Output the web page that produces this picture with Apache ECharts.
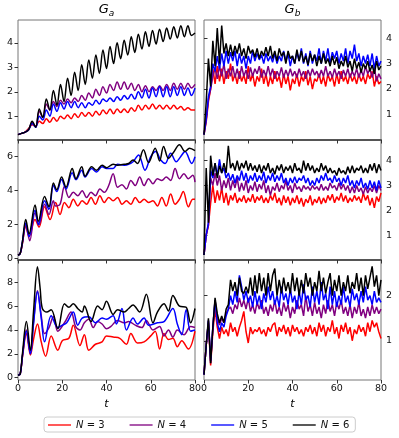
<!DOCTYPE html>
<html><head><meta charset="utf-8">
<script src="https://cdn.jsdelivr.net/npm/echarts@6/dist/echarts.min.js"></script>
<style>html,body{margin:0;padding:0;background:#fff}#c{width:399px;height:438px}</style>
</head><body><div id="c"></div>
<script>
const seriesNames = ['N = 3','N = 4','N = 5','N = 6'];
const colors = ['#ff0000','#800080','#0000ff','#000000'];
const legendColors = ['rgba(255,0,0,0.65)','rgba(128,0,128,0.65)','rgba(0,0,255,0.65)','rgba(0,0,0,0.65)'];
const xTicks = [0,20,40,60,80];
const yTicks = [[1,2,3,4],[1,2,3,4],[0,2,4,6],[1,2,3,4],[0,2,4,6,8],[1,2]];
const yRange = [[0.03,4.93],[-0.01,4.72],[-0.08,6.98],[0,4.83],[-0.2,9.87],[0.13,2.79]];
const colTitles = ['a','b'];

// ---- Ga, top row (sampled at extrema) ----
const tA = [0,1.6,3.2,4.8,6.4,8,9.6,11.2,12.8,14.4,16,17.6,19.2,20.8,22.4,24,25.6,27.2,28.8,30.4,32,33.6,35.2,36.8,38.4,40,41.6,43.2,44.8,46.4,48,49.6,51.2,52.8,54.4,56,57.6,59.2,60.8,62.4,64,65.6,67.2,68.8,70.4,72,73.6,75.2,76.8,78.4,80];
const ga1_N3 = [0.25,0.3,0.35,0.5,0.65,0.6,0.8,0.7,0.9,0.75, 0.95,0.8,1.0,0.9,1.05,0.9,1.1,0.95,1.15,1.0, 1.15,1.0,1.2,1.05,1.25,1.1,1.3,1.1,1.3,1.15, 1.3,1.15,1.35,1.2,1.45,1.25,1.45,1.3,1.5,1.3, 1.45,1.3,1.45,1.3,1.45,1.3,1.4,1.25,1.35,1.25, 1.25];
const ga1_N4 = [0.25,0.3,0.35,0.45,0.75,0.55,1.2,0.95,1.5,1.25, 1.6,1.4,1.65,1.5,1.7,1.55,1.75,1.6,1.85,1.65, 1.95,1.75,2.1,1.85,2.2,1.95,2.3,2.05,2.4,2.1, 2.4,2.1,2.35,2.05,2.3,2.0,2.25,2.0,2.2,2.05, 2.25,2.05,2.3,2.05,2.35,2.1,2.35,2.1,2.35,2.15, 2.3];
const ga1_N5 = [0.25,0.3,0.35,0.45,0.7,0.55,1.0,0.85,1.25,1.0, 1.5,1.2,1.55,1.3,1.6,1.35,1.6,1.35,1.55,1.35, 1.55,1.45,1.65,1.5,1.7,1.6,1.75,1.6,1.8,1.65, 1.85,1.7,1.9,1.7,2.0,1.75,2.1,1.75,2.15,1.8, 2.2,1.8,2.2,1.8,2.2,1.85,2.2,1.85,2.15,1.85, 2.15];
const ga1_N6 = [0.25,0.3,0.35,0.45,0.8,0.55,1.3,0.95,1.7,1.25, 2.05,1.45,2.3,1.6,2.55,1.85,2.8,2.05,3.1,2.3, 3.3,2.55,3.5,2.75,3.7,2.95,3.85,3.15,4.0,3.35, 4.1,3.5,4.25,3.6,4.35,3.75,4.45,3.85,4.5,3.95, 4.55,4.05,4.6,4.15,4.65,4.2,4.7,4.25,4.7,4.3, 4.4];

// ---- Gb panels: sampled every time unit ----
const tB = [0,1,2,3,4,5,6,7,8,9,10,11,12,13,14,15,16,17,18,19,20,21,22,23,24,25,26,27,28,29,30,31,32,33,34,35,36,37,38,39,40,41,42,43,44,45,46,47,48,49,50,51,52,53,54,55,56,57,58,59,60,61,62,63,64,65,66,67,68,69,70,71,72,73,74,75,76,77,78,79,80];
const gb1_N3 = [0.2,0.7,1.5,2.0,2.8,2.2,2.9,2.3,2.8,2.2, 2.7,2.4,3.0,2.3,2.6,2.2,2.7,2.3,2.55,2.2, 2.9,2.3,2.6,2.1,2.5,2.3,2.8,2.2,2.6,2.1, 2.5,2.2,2.7,2.3,2.5,2.05,2.6,2.2,2.5,1.95, 2.4,2.2,2.6,2.1,2.5,2.3,2.7,2.15,2.5,2.0, 2.4,2.3,2.6,2.2,2.5,2.1,2.6,2.3,2.5,2.1, 2.6,2.2,2.7,2.3,2.5,2.2,2.6,2.3,2.5,2.2, 2.6,2.3,2.5,2.2,2.6,2.4,2.7,2.1,2.5,2.2, 2.3];
const gb1_N4 = [0.2,0.8,1.6,2.0,2.5,2.8,2.4,2.9,2.5,3.0, 2.4,2.8,2.5,2.9,2.45,2.8,2.4,2.9,2.5,2.75, 2.4,2.85,2.5,2.8,2.6,2.9,2.45,2.75,2.5,2.9, 2.5,2.8,2.4,2.7,2.5,2.85,2.45,2.75,2.5,2.8, 2.5,2.7,2.45,2.8,2.5,2.7,2.4,2.75,2.5,2.8, 2.55,2.7,2.45,2.75,2.5,2.9,2.5,2.7,2.45,2.8, 2.5,2.7,2.4,2.75,2.5,2.8,2.45,2.7,2.5,2.8, 2.45,2.75,2.5,2.9,2.6,2.8,2.45,2.85,2.3,2.6, 2.4];
const gb1_N5 = [0.2,0.8,1.7,2.1,3.0,2.7,3.3,2.8,3.4,2.9, 3.5,3.0,3.45,3.1,3.5,2.9,3.4,3.0,3.3,2.8, 3.3,3.0,3.5,3.1,3.4,3.15,3.35,3.0,3.4,3.1, 3.3,3.05,3.4,3.0,3.3,3.1,3.5,3.1,3.4,2.9, 3.3,3.0,3.45,3.1,3.6,3.0,3.4,2.9,3.5,3.0, 3.35,3.1,3.6,3.0,3.5,3.1,3.6,3.0,3.45,3.2, 3.5,3.0,3.4,3.1,3.6,3.0,3.5,3.2,3.75,3.1, 3.4,2.9,3.3,3.0,3.35,2.9,3.4,2.8,3.3,2.9, 3.1];
const gb1_N6 = [0.2,1.5,3.2,2.1,3.9,2.9,4.4,3.0,4.5,3.4, 3.8,3.3,3.75,3.3,3.7,3.4,3.8,3.3,3.6,3.2, 3.7,3.4,3.55,3.25,3.6,3.2,3.5,3.3,3.65,3.3, 3.7,3.2,3.5,3.1,3.6,3.3,3.45,3.0,3.5,3.2, 3.3,3.0,3.55,3.1,3.5,3.05,3.3,2.95,3.4,3.1, 3.35,2.9,3.3,3.0,3.4,3.0,3.2,2.9,3.3,2.95, 3.25,2.8,3.1,2.9,3.3,2.85,3.1,2.7,3.2,2.8, 3.05,2.65,3.0,2.8,3.1,2.7,2.95,2.6,3.1,2.75, 2.9];

const gb2_N3 = [0.2,1.0,1.4,2.3,3.0,2.3,2.8,2.4,2.9,2.3, 2.7,2.2,2.6,2.4,2.7,2.3,2.5,2.35,2.6,2.3, 2.5,2.35,2.65,2.3,2.55,2.4,2.6,2.3,2.5,2.3, 2.6,2.4,2.7,2.3,2.5,2.2,2.6,2.3,2.55,2.2, 2.5,2.3,2.6,2.25,2.5,2.15,2.45,2.3,2.6,2.2, 2.45,2.3,2.55,2.25,2.5,2.3,2.6,2.4,2.65,2.3, 2.55,2.4,2.7,2.35,2.6,2.3,2.5,2.35,2.6,2.4, 2.55,2.3,2.7,2.4,2.6,2.2,2.5,2.1,2.55,2.35, 2.7];
const gb2_N4 = [0.2,1.0,1.4,3.3,3.0,3.5,3.0,3.4,2.8,3.2, 2.9,3.3,2.8,3.2,2.9,3.3,2.75,3.1,2.8,3.2, 2.7,3.0,2.8,3.15,2.75,3.05,2.85,3.2,2.7,3.0, 2.6,2.95,2.8,3.1,2.75,3.0,2.85,3.2,2.8,3.0, 2.7,3.1,2.85,2.95,2.75,3.0,2.85,2.95,2.8,3.0, 2.85,2.95,2.8,3.05,2.8,2.95,2.8,3.1,2.9,3.0, 2.8,3.1,2.85,3.05,2.8,3.0,2.7,2.95,2.7,3.0, 2.75,2.9,2.65,2.95,2.7,2.9,2.75,3.0,2.7,3.0, 2.8];
const gb2_N5 = [0.2,1.0,1.5,3.6,3.3,3.9,3.4,4.05,3.5,3.7, 3.3,3.5,3.2,3.45,3.1,3.4,3.2,3.6,3.2,3.5, 3.1,3.4,3.2,3.5,3.15,3.4,3.2,3.55,3.1,3.4, 3.2,3.5,3.15,3.4,3.2,3.5,3.1,3.3,3.0,3.3, 3.1,3.35,3.1,3.3,3.2,3.4,3.1,3.3,3.0,3.2, 3.0,3.3,3.1,3.4,3.2,3.5,3.2,3.3,3.1,3.4, 3.15,3.3,3.0,3.3,3.1,3.4,3.0,3.2,2.9,3.2, 3.0,3.3,2.9,3.1,2.85,3.2,2.9,3.15,2.8,3.2, 2.9];
const gb2_N6 = [0.2,3.7,1.5,4.2,3.4,3.9,3.3,3.8,3.5,3.9, 3.5,4.6,3.7,3.9,3.6,4.0,3.6,3.9,3.7,4.0, 3.6,3.9,3.6,3.8,3.55,3.85,3.5,3.8,3.6,3.9, 3.5,3.7,3.45,3.8,3.6,3.85,3.5,3.75,3.6,3.8, 3.5,3.9,3.6,3.7,3.5,4.0,3.6,3.9,3.6,3.8, 3.5,3.7,3.55,3.9,3.6,3.8,3.5,3.7,3.5,3.6, 3.4,3.7,3.5,3.6,3.45,3.75,3.5,3.8,3.5,3.7, 3.6,3.8,3.5,3.7,3.5,3.85,3.6,3.9,3.5,3.85, 3.6];

const gb3_N3 = [0.25,0.9,1.4,0.45,1.2,1.7,1.3,1.05,1.3,1.15, 1.25,1.1,1.4,1.2,1.3,1.1,1.3,1.45,1.65,1.2, 0.95,1.3,1.15,1.25,1.2,1.3,1.15,1.25,1.1,1.3, 1.2,1.35,1.4,1.1,1.3,1.2,1.35,1.15,1.3,1.1, 1.35,1.2,1.3,1.15,1.25,1.1,1.3,1.2,1.35,1.15, 1.3,1.1,1.4,1.2,1.35,1.1,1.3,1.2,1.45,1.15, 1.3,1.05,1.35,1.2,1.4,1.15,1.3,1.0,1.25,1.15, 1.35,1.2,1.3,1.1,1.4,1.2,1.45,1.3,1.4,1.2, 1.05];
const gb3_N4 = [0.25,0.9,1.45,0.5,1.3,1.9,1.5,1.35,1.5,1.4, 1.6,1.7,1.75,1.6,1.8,1.7,1.95,1.75,1.9,1.7, 1.95,1.65,1.8,1.6,1.85,1.7,1.9,1.6,1.75,1.55, 1.8,1.65,1.9,1.6,1.75,1.55,1.85,1.65,1.8,1.5, 1.75,1.6,1.9,1.7,1.8,1.55,2.0,1.65,1.8,1.55, 1.85,1.6,1.75,1.5,1.8,1.6,1.9,1.65,1.8,1.55, 1.85,1.7,1.9,1.6,1.75,1.55,1.8,1.5,1.75,1.6, 1.85,1.55,1.7,1.5,1.75,1.55,1.8,1.6,1.75,1.6, 1.7];
const gb3_N5 = [0.25,0.9,1.45,0.55,1.3,1.9,1.4,1.2,1.4,1.3, 1.55,1.7,2.0,1.8,2.1,1.85,2.45,2.2,1.9,2.1, 1.85,2.0,1.75,2.1,1.8,2.0,1.7,2.05,1.85,2.2, 1.9,2.1,1.8,2.0,1.75,2.2,1.9,2.05,1.8,2.15, 1.85,2.0,1.7,2.1,1.8,2.25,1.9,2.0,1.75,2.2, 1.85,2.1,1.8,2.3,1.9,2.05,1.7,2.2,1.8,2.1, 1.75,2.0,1.8,2.2,1.85,2.0,1.75,2.15,1.9,2.05, 1.8,2.1,1.85,2.2,1.9,2.0,1.8,2.1,1.85,1.95, 1.85];
const gb3_N6 = [0.25,0.9,1.5,0.5,1.3,1.95,1.6,1.4,1.55,1.4, 1.7,1.8,2.35,2.1,2.3,2.0,2.4,2.1,2.05,2.2, 2.05,2.4,2.0,2.45,2.05,2.5,2.1,2.4,2.0,2.5, 2.1,2.45,2.6,2.0,2.35,2.05,2.4,2.1,2.3,2.05, 2.5,2.1,2.4,2.0,2.35,2.05,2.5,2.2,2.4,2.0, 2.3,2.1,2.55,2.1,2.4,2.05,2.3,2.5,2.0,2.35, 2.1,2.45,2.0,2.3,2.1,2.45,2.05,2.3,2.15,2.5, 2.1,2.4,2.0,2.45,2.15,2.4,2.65,2.2,2.45,2.0, 2.35];

// ---- Ga, middle and bottom rows: [t, value] at turning points ----
const ga2_N3 = [[0,0.2],[1,0.3],[2,0.9],[3.5,1.9],[5,1.3],[7.7,2.3],[9.5,1.85],[12,3.05],[14.5,2.3],[17,3.3],[19,2.6],[21,3.3],[23,3.0],[25,3.5],[27,3.1],[29,3.4],[31,3.2],[33,3.6],[35,3.2],[37,3.7],[39,3.3],[41,3.6],[43,3.4],[45,3.6],[47,3.2],[49,3.4],[51,3.2],[53,3.6],[55,3.3],[57,3.5],[59,3.3],[61,3.4],[63,3.1],[65,3.6],[67,3.1],[69,3.8],[71,3.2],[73,3.5],[74.7,3.95],[77,3.05],[79,3.5],[80,3.5]];
const ga2_N4 = [[0,0.2],[1,0.3],[2,0.9],[3.5,2.0],[5.3,1.05],[7.7,2.7],[9.5,2.0],[12,3.2],[14,2.6],[16,3.4],[17,3.1],[19,3.2],[21,4.25],[23,3.6],[25,3.9],[27,3.7],[29,4.0],[31,3.6],[33,3.9],[35,3.7],[37,4.1],[39,3.9],[41,4.3],[43,5.0],[45,4.2],[47,4.35],[49,4.1],[51,4.6],[53,4.3],[55,4.8],[57,4.3],[59,4.7],[61,4.4],[63,4.7],[65,4.6],[67,4.8],[69,4.6],[71,5.3],[73,4.7],[75,5.0],[77,4.7],[79,4.9],[80,4.5]];
const ga2_N5 = [[0,0.2],[1,0.3],[2,1.0],[3.5,2.1],[5,1.3],[7.7,2.85],[9.2,2.0],[12,3.4],[14,2.9],[16,4.3],[17.5,3.95],[19.7,4.65],[21.7,4.1],[24.5,5.05],[26.2,4.65],[28.8,5.2],[30.3,4.8],[33.3,5.3],[35.5,5.1],[38,5.4],[40,5.3],[43,5.3],[45,5.55],[48,5.5],[50,5.55],[52,5.7],[54.5,6.1],[57.4,5.2],[60,6.0],[62.3,6.3],[64.5,5.8],[66.5,5.6],[69,6.2],[71.5,5.7],[73.5,6.0],[75.5,6.3],[78.5,5.6],[80,6.0]];
const ga2_N6 = [[0,0.2],[1,0.3],[2,1.0],[3.5,2.3],[5,1.45],[7.7,3.15],[9.2,2.2],[12,3.65],[14,3.05],[16,4.45],[17.5,4.05],[19.7,4.8],[21.7,4.2],[24.5,5.3],[26.2,4.7],[28.8,5.4],[30.3,4.85],[33.3,5.4],[35.5,5.2],[38,5.5],[40,5.35],[43,5.55],[45,5.5],[48,5.55],[50,5.6],[52,5.8],[54,5.6],[56.7,6.4],[59,5.65],[62,6.5],[64,5.75],[65.8,6.6],[68,5.9],[70,6.2],[73,6.7],[75.5,6.3],[77.5,6.5],[80,6.35]];

const ga3_N3 = [[0,0.2],[1,0.3],[2,1.7],[3.8,3.7],[5.6,1.9],[7,3.2],[8.8,4.5],[10.5,3.0],[12.5,1.8],[15,3.5],[18,2.3],[20,3.1],[23,3.3],[25,4.4],[28,2.7],[30,3.6],[32,2.3],[35,2.8],[38,3.0],[40,3.5],[43,3.4],[46,3.3],[49,2.8],[51,3.7],[54,2.9],[57,3.0],[60,3.5],[62,3.9],[64,2.4],[66,3.7],[68,3.2],[70,3.3],[72,2.6],[74,3.1],[77,2.4],[80,3.9]];
const ga3_N4 = [[0,0.2],[1,0.3],[2,1.8],[3.8,4.0],[5.6,2.0],[7,4.6],[8.8,7.3],[10.5,5.2],[12,3.7],[14,4.2],[16,5.1],[18,3.9],[21,4.6],[24,5.5],[26,4.3],[28,4.0],[30,4.6],[32,4.9],[34,4.2],[36,4.7],[38,4.5],[40,4.1],[42,4.3],[45,4.8],[48,4.6],[50,4.7],[53,4.4],[56,4.2],[58,4.8],[61,4.0],[64,4.3],[66,3.5],[68,4.0],[70,3.4],[72,4.0],[75,3.6],[78,4.3],[80,4.2]];
const ga3_N5 = [[0,0.2],[1,0.3],[2,1.8],[3.8,3.9],[5.6,2.0],[7,4.5],[8.8,7.2],[10.5,5.0],[12,3.0],[15,5.2],[18,4.2],[20,4.4],[22,4.6],[25,5.5],[27,4.4],[29,5.0],[32,5.1],[35,4.6],[38,5.0],[40,4.9],[43,5.2],[44.5,4.5],[47,5.8],[49,4.0],[52,5.0],[54,4.5],[57,5.0],[59,4.4],[63,4.6],[66,4.7],[70,5.8],[72,4.5],[74,3.6],[76,5.7],[78,3.9],[80,4.0]];
const ga3_N6 = [[0,0.2],[1,0.3],[2,2.0],[3.8,4.7],[5.6,2.3],[7,5.5],[8.8,9.3],[10,7.5],[11,5.8],[13,5.5],[15,5.7],[18,4.1],[21,6.2],[23,5.9],[25,6.2],[27,5.8],[29,5.5],[30,6.0],[33,4.7],[36,6.0],[38,5.7],[40,6.4],[43,5.3],[45,5.7],[48,5.5],[50,5.8],[52,6.1],[55,5.5],[58,7.0],[61,4.6],[63,5.5],[66,6.2],[68,5.6],[70,6.9],[73,6.0],[76,5.9],[78,4.6],[80,5.8]];

const zip = (ts, vs) => ts.map((t, i) => [t, vs[i]]);
const panels = [
  [zip(tA, ga1_N3), zip(tA, ga1_N4), zip(tA, ga1_N5), zip(tA, ga1_N6)],
  [zip(tB, gb1_N3), zip(tB, gb1_N4), zip(tB, gb1_N5), zip(tB, gb1_N6)],
  [ga2_N3, ga2_N4, ga2_N5, ga2_N6],
  [zip(tB, gb2_N3), zip(tB, gb2_N4), zip(tB, gb2_N5), zip(tB, gb2_N6)],
  [ga3_N3, ga3_N4, ga3_N5, ga3_N6],
  [zip(tB, gb3_N3), zip(tB, gb3_N4), zip(tB, gb3_N5), zip(tB, gb3_N6)]
];

const FONT = 'DejaVu Sans';
const colLeft = [18, 204];
const rowTop = [20, 140, 260];
const W = 177, H = 120;

const grids = [], xAxes = [], yAxes = [], series = [];
for (let p = 0; p < 6; p++) {
  const col = p % 2, row = Math.floor(p / 2);
  const bottom = row === 2;
  grids.push({left: colLeft[col], top: rowTop[row], width: W, height: H,
    show: true, borderColor: '#777', borderWidth: 1, backgroundColor: 'transparent'});
  xAxes.push({type: 'value', gridIndex: p, min: 0, max: 80, interval: 20,
    axisLine: {show: !bottom, onZero: false, lineStyle: {color: '#555', width: 2}},
    axisTick: {show: true, length: 3.5, lineStyle: {color: '#333', width: 1}},
    axisLabel: {show: bottom, fontFamily: FONT, fontSize: 9.5, color: '#111', margin: 4},
    splitLine: {show: false}});
  yAxes.push({type: 'value', gridIndex: p, min: yRange[p][0], max: yRange[p][1],
    position: col === 0 ? 'left' : 'right',
    axisLine: {show: false},
    axisTick: {show: true, length: 3.5, customValues: yTicks[p], lineStyle: {color: '#333', width: 1}},
    axisLabel: {show: true, customValues: yTicks[p], fontFamily: FONT, fontSize: 9.5, color: '#111', margin: 5},
    splitLine: {show: false}});
  for (let k = 0; k < 4; k++) {
    series.push({type: 'line', name: seriesNames[k], xAxisIndex: p, yAxisIndex: p,
      data: panels[p][k], symbol: 'none', showSymbol: false,
      smooth: col === 0 ? 0.35 : false, clip: true,
      lineStyle: {color: colors[k], width: 1.5}, itemStyle: {color: colors[k]},
      emphasis: {disabled: true}});
  }
}

const graphics = [];
for (let c = 0; c < 2; c++) {
  graphics.push({type: 'text', x: colLeft[c] + W / 2, y: 10,
    style: {text: '{g|G}{s|' + colTitles[c] + '}', align: 'center', verticalAlign: 'middle',
      rich: {g: {fontFamily: FONT, fontStyle: 'italic', fontSize: 13, lineHeight: 16, verticalAlign: 'middle', fill: '#000'},
             s: {fontFamily: FONT, fontStyle: 'italic', fontSize: 9, lineHeight: 8, verticalAlign: 'bottom', fill: '#000'}}}});
  graphics.push({type: 'text', x: colLeft[c] + W / 2, y: 404,
    style: {text: 't', align: 'center', verticalAlign: 'middle', fontFamily: FONT, fontStyle: 'italic', fontSize: 11, fill: '#000'}});
}

const chart = echarts.init(document.getElementById('c'), null, {renderer: 'canvas'});
chart.setOption({
  animation: false,
  backgroundColor: '#fff',
  grid: grids, xAxis: xAxes, yAxis: yAxes, series: series,
  graphic: graphics,
  legend: {
    left: 44, top: 417, orient: 'horizontal',
    data: seriesNames.map((n, i) => ({name: n, itemStyle: {color: legendColors[i]}})),
    icon: 'rect', itemWidth: 23, itemHeight: 2, itemGap: 25,
    padding: [2, 6, 1, 4], borderColor: '#ccc', borderWidth: 1, borderRadius: 3, backgroundColor: '#fff',
    selectedMode: false,
    formatter: n => '{i|N}' + n.slice(1),
    textStyle: {fontFamily: FONT, fontSize: 10, color: '#111', lineHeight: 12,
      rich: {i: {fontFamily: FONT, fontStyle: 'italic', fontSize: 10, color: '#111'}}}
  }
});
</script></body></html>
